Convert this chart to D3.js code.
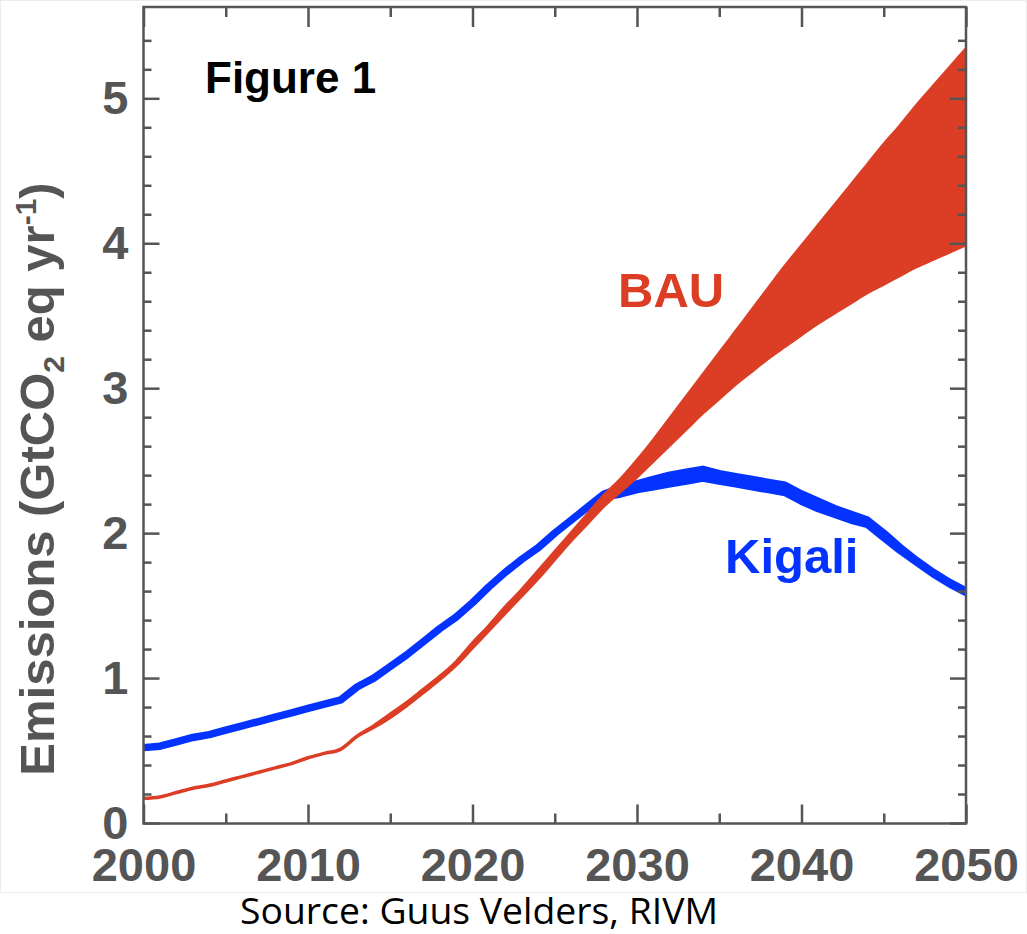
<!DOCTYPE html>
<html>
<head>
<meta charset="utf-8">
<script src="https://cdn.jsdelivr.net/npm/d3@7"></script>
<style>
  html, body { margin: 0; padding: 0; background: #fff; }
  svg { display: block; }
</style>
</head>
<body>
<svg id="chart" width="1027" height="934"></svg>
<script>
// ---- data ----
const years = d3.range(2000, 2051);
const xMajorTicks = [2000, 2010, 2020, 2030, 2040, 2050];
const xMinorTicks = [2005, 2015, 2025, 2035, 2045];
const yMajorTicks = [0, 1, 2, 3, 4, 5];
const yMinorTicks = [0.2,0.4,0.6,0.8,1.2,1.4,1.6,1.8,2.2,2.4,2.6,2.8,3.2,3.4,3.6,3.8,4.2,4.4,4.6,4.8,5.2,5.4];

const bauLow = [0.17,0.18,0.21,0.24,0.26,0.29,0.32,0.35,0.38,0.41,
  0.45,0.48,0.51,0.60,0.66,0.73,0.81,0.90,0.99,1.09,
  1.21,1.33,1.45,1.57,1.69,1.82,1.95,2.07,2.19,2.29,
  2.39,2.50,2.61,2.72,2.83,2.93,3.03,3.12,3.21,3.29,
  3.37,3.45,3.52,3.59,3.66,3.72,3.78,3.84,3.89,3.94,3.99];
const bauHigh = [0.17,0.18,0.21,0.24,0.26,0.29,0.32,0.35,0.38,0.41,
  0.45,0.48,0.51,0.60,0.67,0.75,0.83,0.92,1.01,1.11,
  1.24,1.36,1.49,1.61,1.74,1.87,2.00,2.13,2.26,2.37,
  2.50,2.64,2.79,2.94,3.09,3.24,3.39,3.54,3.69,3.84,
  3.98,4.12,4.26,4.40,4.54,4.68,4.81,4.95,5.08,5.21,5.34];
const kigaliLow = [0.52,0.53,0.56,0.59,0.61,0.64,0.67,0.70,0.73,0.76,
  0.79,0.82,0.85,0.94,1.00,1.08,1.16,1.25,1.34,1.42,
  1.52,1.63,1.73,1.82,1.90,2.00,2.09,2.18,2.25,2.27,
  2.30,2.32,2.34,2.36,2.38,2.36,2.34,2.32,2.30,2.28,
  2.22,2.17,2.13,2.09,2.06,1.97,1.88,1.80,1.72,1.65,1.59];
const kigaliHigh = [0.52,0.53,0.56,0.59,0.61,0.64,0.67,0.70,0.73,0.76,
  0.79,0.82,0.85,0.94,1.00,1.08,1.16,1.25,1.34,1.42,
  1.52,1.63,1.73,1.82,1.90,2.00,2.09,2.18,2.27,2.31,
  2.34,2.37,2.40,2.42,2.44,2.41,2.39,2.37,2.35,2.33,
  2.27,2.22,2.17,2.13,2.09,2.00,1.90,1.81,1.73,1.66,1.60];

// ---- layout ----
const svg = d3.select("#chart");
const L = 143.5, R = 966, T = 7, B = 823.5;
const x = d3.scaleLinear().domain([2000, 2050]).range([L, R]);
const y = d3.scaleLinear().domain([0, 5.63]).range([823, 7]);

const axisColor = "#555";
const blue = "#0433FF";
const red = "#DB3D25";
const boldFont = "'Liberation Sans', Arial, Helvetica, sans-serif";

// faint picture border
svg.append("rect").attr("x", 0.5).attr("y", 0.5).attr("width", 1026).attr("height", 892)
  .attr("fill", "#fff").attr("stroke", "#ececec").attr("stroke-width", 1);

svg.append("defs").append("clipPath").attr("id", "plotclip")
  .append("rect").attr("x", L).attr("y", T).attr("width", R - L).attr("height", B - T);

// ---- series ----
const kData = years.map((yr, i) => ({yr, lo: kigaliLow[i], hi: kigaliHigh[i]}));
const bData = years.map((yr, i) => ({yr, lo: bauLow[i], hi: bauHigh[i]}));

const kArea = d3.area().x(d => x(d.yr)).y0(d => y(d.lo)).y1(d => y(d.hi)).curve(d3.curveLinear);
const bArea = d3.area().x(d => x(d.yr)).y0(d => y(d.lo)).y1(d => y(d.hi)).curve(d3.curveMonotoneX);

const plot = svg.append("g").attr("clip-path", "url(#plotclip)");
plot.append("path").datum(kData).attr("d", kArea)
  .attr("fill", blue).attr("stroke", blue).attr("stroke-width", 7.5).attr("stroke-linejoin", "round");
plot.append("path").datum(bData).attr("d", bArea)
  .attr("fill", red).attr("stroke", red).attr("stroke-width", 3.5).attr("stroke-linejoin", "round");

// ---- axes ----
function styleAxis(g) {
  g.select(".domain").remove();
  g.selectAll(".tick line").attr("stroke", axisColor).attr("stroke-width", 2.5);
  g.selectAll(".tick text").attr("fill", axisColor).attr("font-family", boldFont)
    .attr("font-weight", "bold").attr("font-size", 47);
}
svg.append("g").attr("transform", `translate(0,${B})`)
  .call(d3.axisBottom(x).tickValues(xMajorTicks).tickFormat(d3.format("d")).tickSize(-19).tickPadding(24))
  .call(styleAxis);
svg.append("g").attr("transform", `translate(0,${B})`)
  .call(d3.axisBottom(x).tickValues(xMinorTicks).tickFormat("").tickSize(-10))
  .call(styleAxis);
svg.append("g").attr("transform", `translate(0,${T})`)
  .call(d3.axisTop(x).tickValues(xMajorTicks).tickFormat("").tickSize(-20))
  .call(styleAxis);
svg.append("g").attr("transform", `translate(0,${T})`)
  .call(d3.axisTop(x).tickValues(xMinorTicks).tickFormat("").tickSize(-10))
  .call(styleAxis);
svg.append("g").attr("transform", `translate(${L},0)`)
  .call(d3.axisLeft(y).tickValues(yMajorTicks).tickFormat(d3.format("d")).tickSize(-16).tickPadding(15))
  .call(styleAxis);
svg.append("g").attr("transform", `translate(${L},0)`)
  .call(d3.axisLeft(y).tickValues(yMinorTicks).tickFormat("").tickSize(-8))
  .call(styleAxis);
svg.append("g").attr("transform", `translate(${R},0)`)
  .call(d3.axisRight(y).tickValues(yMajorTicks).tickFormat("").tickSize(-16))
  .call(styleAxis);
svg.append("g").attr("transform", `translate(${R},0)`)
  .call(d3.axisRight(y).tickValues(yMinorTicks).tickFormat("").tickSize(-8))
  .call(styleAxis);

// frame
svg.append("rect").attr("x", L).attr("y", T).attr("width", R - L).attr("height", B - T)
  .attr("fill", "none").attr("stroke", axisColor).attr("stroke-width", 2.5);

// ---- y axis title ----
const yt = svg.append("text")
  .attr("transform", "translate(54,479) rotate(-90)")
  .attr("text-anchor", "middle")
  .attr("fill", axisColor).attr("font-family", boldFont).attr("font-weight", "bold")
  .attr("font-size", 49);
yt.append("tspan").text("Emissions (GtCO");
yt.append("tspan").attr("font-size", 30).attr("dy", 10).text("2");
yt.append("tspan").attr("dy", -10).text(" eq yr");
yt.append("tspan").attr("font-size", 30).attr("dy", -18).text("-1");
yt.append("tspan").attr("dy", 18).text(")");

// ---- annotations ----
svg.append("text").attr("x", 205).attr("y", 93).attr("fill", "#000")
  .attr("font-family", boldFont).attr("font-weight", "bold").attr("font-size", 44)
  .text("Figure 1");
svg.append("text").attr("x", 618).attr("y", 307).attr("fill", red)
  .attr("font-family", boldFont).attr("font-weight", "bold").attr("font-size", 49)
  .text("BAU");
svg.append("text").attr("x", 725).attr("y", 573).attr("fill", blue)
  .attr("font-family", boldFont).attr("font-weight", "bold").attr("font-size", 49)
  .text("Kigali");

// source
svg.append("text").attr("x", 240).attr("y", 924).attr("fill", "#000")
  .attr("font-family", "'Open Sans', 'Noto Sans', sans-serif").attr("font-size", 37)
  .attr("textLength", 478).attr("lengthAdjust", "spacingAndGlyphs")
  .text("Source: Guus Velders, RIVM");
</script>
</body>
</html>
